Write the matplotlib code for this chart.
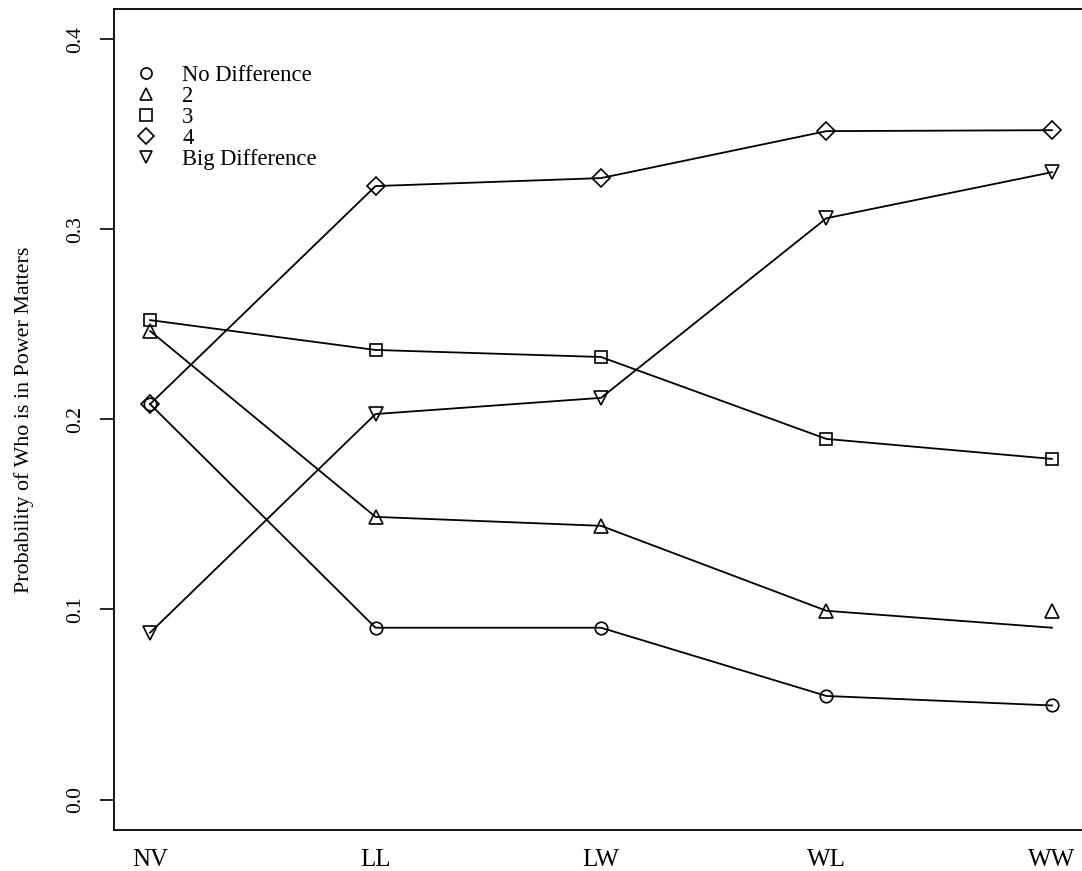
import matplotlib
matplotlib.use("Agg")
import matplotlib.pyplot as plt

categories = ["NV", "LL", "LW", "WL", "WW"]
no_diff = [0.208, 0.0904, 0.0904, 0.0545, 0.0495]
two_pts = [0.2465, 0.1487, 0.144, 0.0993, 0.0993]
two_line = [0.2465, 0.1487, 0.144, 0.0993, 0.0904]
three = [0.2522, 0.2365, 0.2328, 0.1897, 0.1792]
four = [0.208, 0.3227, 0.3269, 0.3516, 0.3521]
big_diff = [0.0878, 0.2028, 0.2113, 0.3058, 0.330]
legend_labels = ["No Difference", "2", "3", "4", "Big Difference"]
yticks = [0.0, 0.1, 0.2, 0.3, 0.4]

plt.rcParams['font.family'] = ['Liberation Serif', 'DejaVu Serif']

W, H = 1082, 871
fig = plt.figure(figsize=(W / 100, H / 100), dpi=100)
left, right, top, bottom = 114, 1088, 8.7, 830
ax = fig.add_axes([left / W, 1 - bottom / H, (right - left) / W, (bottom - top) / H])

x = list(range(1, len(categories) + 1))
lw = 1.3
mk = dict(color="black", mfc="none", mec="black", mew=1.2)
sizes = {"o": 9, "^": 10, "s": 9, "D": 9.5, "v": 10}

series = [
    (no_diff, no_diff, "o"),
    (two_line, two_pts, "^"),
    (three, three, "s"),
    (four, four, "D"),
    (big_diff, big_diff, "v"),
]
for line_vals, pt_vals, m in series:
    ax.plot(x, line_vals, color="black", lw=lw)
    ax.plot(x, pt_vals, ls="none", marker=m, ms=sizes[m], **mk)

ax.set_xlim(0.84, 5.16)
ax.set_ylim(-0.016, 0.416)
ax.set_xticks(x)
ax.set_xticklabels(categories, fontsize=18)
ax.tick_params(axis="x", length=0, pad=14)
ax.set_yticks(yticks)
ax.set_yticklabels([f"{v:.1f}" for v in yticks], rotation=90, va="center", fontsize=15.5)
ax.tick_params(axis="y", length=10, width=1.2, pad=11, direction="out")
for s in ax.spines.values():
    s.set_linewidth(1.3)
ax.set_ylabel("Probability of Who is in Power Matters", fontsize=15.8, labelpad=23)

handles = []
for m in ["o", "^", "s", "D", "v"]:
    h, = ax.plot([], [], ls="none", marker=m, color="black", mfc="none", mew=1.2,
                 ms=sizes[m] - 1)
    handles.append(h)
leg = ax.legend(handles, legend_labels, loc="upper left", bbox_to_anchor=(0.012, 0.942),
                frameon=False, fontsize=16.3, handlelength=1.0, handletextpad=1.1,
                labelspacing=0.0, borderaxespad=0)

fig.savefig("out.png", dpi=100)
